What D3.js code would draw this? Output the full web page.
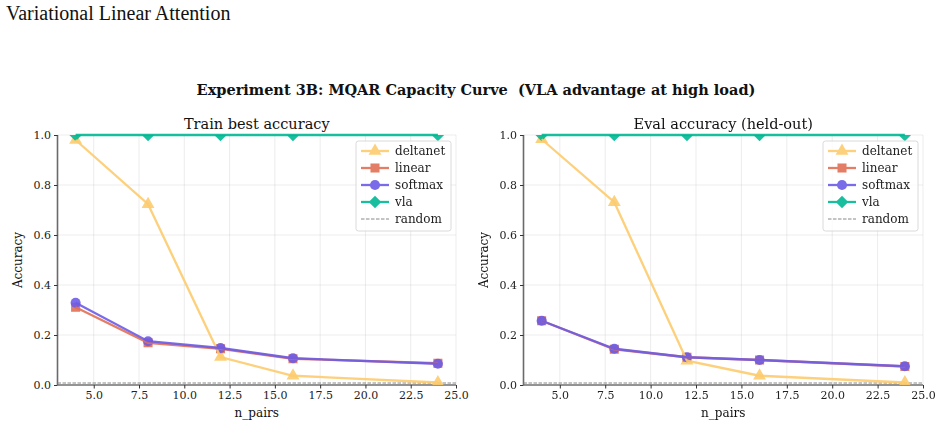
<!DOCTYPE html>
<html>
<head>
<meta charset="utf-8">
<script src="https://cdn.jsdelivr.net/npm/d3@7"></script>
<style>
  html, body { margin: 0; padding: 0; background: #fff; }
  svg { display: block; }
</style>
</head>
<body>
<svg id="chart" width="942" height="427"></svg>
<script>
// ---- data ----
const nPairs = [4, 8, 12, 16, 24];
const seriesNames = ["deltanet", "linear", "softmax", "vla"];
const trainDeltanet = [0.980, 0.723, 0.112, 0.037, 0.010];
const trainLinear   = [0.311, 0.169, 0.145, 0.105, 0.087];
const trainSoftmax  = [0.329, 0.175, 0.148, 0.107, 0.085];
const trainVla      = [1.0, 1.0, 1.0, 1.0, 1.0];
const evalDeltanet  = [0.983, 0.731, 0.097, 0.037, 0.010];
const evalLinear    = [0.257, 0.143, 0.111, 0.100, 0.074];
const evalSoftmax   = [0.257, 0.145, 0.111, 0.100, 0.075];
const evalVla       = [1.0, 1.0, 1.0, 1.0, 1.0];
const randomLevel = 0.008;
const xTicks = [5, 7.5, 10, 12.5, 15, 17.5, 20, 22.5, 25];
const yTicks = [0, 0.2, 0.4, 0.6, 0.8, 1.0];
const colors = { deltanet: "#fdcb6e", linear: "#e17055", softmax: "#6c5ce7", vla: "#00b894" };
const markers = { deltanet: d3.symbolTriangle, linear: d3.symbolSquare, softmax: d3.symbolCircle, vla: d3.symbolSquare };
const markerSizes = { deltanet: 72, linear: 82, softmax: 80, vla: 78 };

const panels = [
  { title: "Train best accuracy", left: 57.5, right: 456, data: { deltanet: trainDeltanet, linear: trainLinear, softmax: trainSoftmax, vla: trainVla } },
  { title: "Eval accuracy (held-out)", left: 523.5, right: 923, data: { deltanet: evalDeltanet, linear: evalLinear, softmax: evalSoftmax, vla: evalVla } }
];

const svg = d3.select("#chart");
const serif = "'DejaVu Serif', serif";

svg.append("text").attr("x", 6).attr("y", 20)
  .attr("font-family", "'Liberation Serif', 'Times New Roman', serif").attr("font-size", 20)
  .attr("fill", "#111").text("Variational Linear Attention");

svg.append("text").attr("x", 476).attr("y", 95).attr("text-anchor", "middle")
  .attr("font-family", serif).attr("font-size", 14.5).attr("font-weight", "bold")
  .attr("fill", "#111").attr("xml:space", "preserve")
  .text("Experiment 3B: MQAR Capacity Curve  (VLA advantage at high load)");

const plotTop = 135, plotBottom = 385;

function markerPath(name) {
  return d3.symbol().type(markers[name]).size(markerSizes[name])();
}
function markerRot(name) { return name === "vla" ? " rotate(45)" : ""; }

panels.forEach((p, pi) => {
  const x = d3.scaleLinear().domain([3, 25]).range([p.left, p.right]);
  const y = d3.scaleLinear().domain([0, 1]).range([plotBottom, plotTop]);
  const g = svg.append("g");
  const clipId = "clip" + pi;
  svg.append("clipPath").attr("id", clipId).append("rect")
    .attr("x", p.left).attr("y", plotTop).attr("width", p.right - p.left).attr("height", plotBottom - plotTop);

  // grid
  g.append("g").selectAll("line").data(xTicks).join("line")
    .attr("x1", d => x(d)).attr("x2", d => x(d)).attr("y1", plotTop).attr("y2", plotBottom)
    .attr("stroke", "#b0b0b0").attr("stroke-opacity", 0.3).attr("stroke-width", 0.8);
  g.append("g").selectAll("line").data(yTicks).join("line")
    .attr("x1", p.left).attr("x2", p.right).attr("y1", d => y(d)).attr("y2", d => y(d))
    .attr("stroke", "#b0b0b0").attr("stroke-opacity", 0.3).attr("stroke-width", 0.8);

  // axes
  const xa = g.append("g").attr("transform", `translate(0,${plotBottom})`)
    .call(d3.axisBottom(x).tickValues(xTicks).tickFormat(d3.format(".1f")).tickSize(3.5).tickPadding(3));
  const ya = g.append("g").attr("transform", `translate(${p.left},0)`)
    .call(d3.axisLeft(y).tickValues(yTicks).tickFormat(d3.format(".1f")).tickSize(3.5).tickPadding(3));
  [xa, ya].forEach(a => {
    a.attr("font-family", serif);
    a.selectAll("text").attr("font-family", serif).attr("font-size", 11).attr("fill", "#222");
    a.selectAll("line").attr("stroke", "#333");
    a.select(".domain").attr("stroke", "#333").attr("stroke-width", 1);
  });
  ya.select(".domain").attr("d", `M0,${plotTop}V${plotBottom}`).attr("stroke", "#6a6a6a").attr("stroke-width", 1.6);
  xa.select(".domain").attr("d", `M${p.left},0H${p.right}`);

  g.append("text").attr("x", (p.left + p.right) / 2).attr("y", 129).attr("text-anchor", "middle")
    .attr("font-family", serif).attr("font-size", 14.5).attr("fill", "#111").text(p.title);
  g.append("text").attr("x", (p.left + p.right) / 2).attr("y", 417).attr("text-anchor", "middle")
    .attr("font-family", serif).attr("font-size", 12).attr("fill", "#111").text("n_pairs");
  g.append("text").attr("transform", `translate(${p.left - 36},${(plotTop + plotBottom) / 2}) rotate(-90)`)
    .attr("text-anchor", "middle").attr("font-family", serif).attr("font-size", 12).attr("fill", "#111").text("Accuracy");

  // random baseline
  g.append("line").attr("x1", p.left).attr("x2", p.right).attr("y1", y(randomLevel)).attr("y2", y(randomLevel))
    .attr("stroke", "#888").attr("stroke-width", 1).attr("stroke-dasharray", "3.5,1.5");

  const markLayer = g.append("g").attr("clip-path", `url(#${clipId})`);
  const line = d3.line().x((d, i) => x(nPairs[i])).y(d => y(d));
  seriesNames.forEach(name => {
    const vals = p.data[name];
    const sg = g.append("g").attr("opacity", 0.9);
    sg.append("path").datum(vals).attr("d", line).attr("fill", "none")
      .attr("stroke", colors[name]).attr("stroke-width", 2.3);
    markLayer.append("g").attr("opacity", 0.9).selectAll("path").data(vals).join("path")
      .attr("transform", (d, i) => `translate(${x(nPairs[i])},${y(d)})` + markerRot(name))
      .attr("d", markerPath(name))
      .attr("fill", colors[name]);
  });

  // legend
  const lx = p.right - 100, ly = 141;
  const lg = g.append("g");
  lg.append("rect").attr("x", lx).attr("y", ly).attr("width", 95).attr("height", 90).attr("rx", 2.5)
    .attr("fill", "#fff").attr("fill-opacity", 0.8).attr("stroke", "#d0d0d0").attr("stroke-width", 0.8);
  const entries = seriesNames.concat(["random"]);
  entries.forEach((name, i) => {
    const ey = ly + 10 + i * 17;
    if (name === "random") {
      lg.append("line").attr("x1", lx + 5).attr("x2", lx + 33).attr("y1", ey).attr("y2", ey)
        .attr("stroke", "#888").attr("stroke-width", 1).attr("stroke-dasharray", "3.5,1.5");
    } else {
      const eg = lg.append("g").attr("opacity", 0.9);
      eg.append("line").attr("x1", lx + 5).attr("x2", lx + 33).attr("y1", ey).attr("y2", ey)
        .attr("stroke", colors[name]).attr("stroke-width", 2.3);
      eg.append("path").attr("transform", `translate(${lx + 19},${ey})` + markerRot(name))
        .attr("d", markerPath(name))
        .attr("fill", colors[name]);
    }
    lg.append("text").attr("x", lx + 39).attr("y", ey + 4).attr("font-family", serif).attr("font-size", 12)
      .attr("fill", "#222").text(name);
  });
});
</script>
</body>
</html>
